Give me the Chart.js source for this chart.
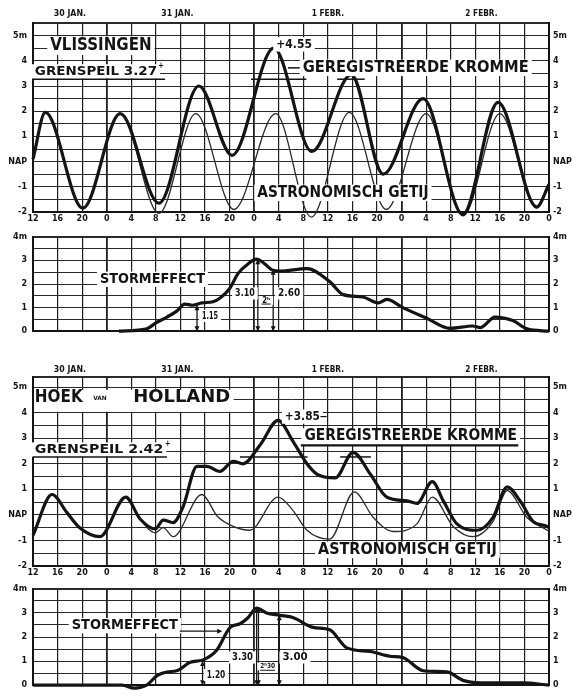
<!DOCTYPE html>
<html>
<head>
<meta charset="utf-8">
<script src="https://cdn.jsdelivr.net/npm/chart.js@4.4.1/dist/chart.umd.min.js"></script>
<style>
  html, body { margin: 0; padding: 0; background: #fff; }
  body { width: 572px; height: 696px; position: relative; overflow: hidden; }
  canvas { position: absolute; left: 0; }
</style>
</head>
<body>
<canvas id="vlisTide" width="572" height="228" style="top:0px"></canvas>
<canvas id="vlisStorm" width="572" height="116" style="top:226px"></canvas>
<canvas id="hoekTide" width="572" height="229" style="top:353px"></canvas>
<canvas id="hoekStorm" width="572" height="118" style="top:578px"></canvas>
<script>
// Stormvloed 1953 — waterstanden Vlissingen en Hoek van Holland
// x = uren vanaf 30 jan. 12u, y = meters t.o.v. NAP

const INK = '#141414';
const FONT = '"DejaVu Sans", sans-serif';

// ─── DATA ─────────────────────────────────────────────────────
const dayLabels = ['30 JAN.', '31 JAN.', '1 FEBR.', '2 FEBR.'];
const dayLabelHours = [6, 23.5, 48, 73];

const vlisRegHours  = [0, 2, 8.1, 14.2, 20.5, 27, 32.4, 39.2, 45.4, 51.8, 57, 63.5, 70, 75.7, 82, 84];
const vlisRegLevel  = [0.1, 1.95, -1.85, 1.9, -1.65, 3.0, 0.25, 4.5, 0.4, 3.45, -0.5, 2.5, -2.1, 2.35, -1.8, -0.9];

const vlisAstroHours = [0, 2, 8.1, 14.2, 20.5, 26.5, 32.7, 39.5, 45.3, 51.5, 57.5, 64, 70, 76, 82, 84];
const vlisAstroLevel = [0.1, 1.95, -1.85, 1.9, -2.05, 1.9, -1.9, 1.9, -2.2, 1.95, -1.9, 1.9, -2.15, 1.9, -1.85, -0.95];

const vlisStormHours = [14, 18.5, 20, 21.8, 23.4, 24.7, 26, 27.5, 29.3, 30.4, 32, 33.4, 35, 36.4, 37.5, 38.9, 40.2, 44.6, 48.3, 50.5, 53.7, 56.2, 57.6, 60.2, 64.1, 67.9, 71.6, 72.8, 75.2, 78.1, 80.4, 84];
const vlisStormLevel = [0, 0.1, 0.35, 0.6, 0.85, 1.15, 1.1, 1.2, 1.25, 1.4, 1.8, 2.45, 2.85, 3.05, 2.9, 2.6, 2.55, 2.65, 2.1, 1.55, 1.45, 1.2, 1.35, 1.0, 0.55, 0.12, 0.22, 0.15, 0.6, 0.45, 0.1, 0];

const hoekRegHours = [0, 3.1, 5.5, 7.6, 10.9, 15.1, 17.4, 19.9, 21.2, 22.8, 24.4, 26.7, 28.3, 30.4, 32.6, 34.2, 37, 39.9, 42.4, 44.6, 46.2, 49.2, 52.1, 54.9, 57.6, 60.9, 62.5, 65, 66.8, 69, 72.3, 74.9, 77.2, 79.3, 81.4, 83.7, 84];
const hoekRegLevel = [-0.8, 0.8, 0.1, -0.5, -0.85, 0.7, -0.15, -0.55, -0.2, -0.3, 0.3, 1.9, 1.9, 1.7, 2.1, 2.0, 2.75, 3.7, 2.85, 2.0, 1.6, 1.45, 2.45, 1.6, 0.7, 0.55, 0.45, 1.3, 0.55, -0.35, -0.6, -0.1, 1.1, 0.55, -0.25, -0.45, -0.5];

const hoekAstroHours = [0, 3.1, 5.5, 7.6, 10.9, 15.1, 17.4, 19.9, 21.2, 22.8, 27.5, 30, 32.6, 35.3, 39.9, 42.4, 44.6, 48.3, 52.3, 55.4, 58.6, 62.5, 65, 68.4, 71.6, 74.9, 77.2, 80.4, 83.7, 84];
const hoekAstroLevel = [-0.8, 0.8, 0.1, -0.5, -0.85, 0.7, -0.15, -0.7, -0.5, -0.85, 0.8, -0.05, -0.45, -0.6, 0.7, 0.15, -0.6, -0.95, 0.9, -0.1, -0.65, -0.35, 0.7, -0.45, -0.85, -0.25, 0.95, -0.1, -0.6, -0.65];

const hoekStormHours = [0, 14.5, 16.5, 18.5, 20.2, 21.8, 23.4, 25.6, 27.7, 29.9, 32.1, 33.7, 35, 36.4, 38, 40.2, 42.4, 45.6, 48.3, 51.1, 54.9, 58.1, 60.2, 63.5, 67.4, 70, 72.8, 79.8, 84];
const hoekStormLevel = [0, 0, -0.12, 0, 0.4, 0.55, 0.6, 0.95, 1.05, 1.45, 2.4, 2.55, 2.8, 3.2, 3.0, 2.9, 2.8, 2.4, 2.3, 1.55, 1.4, 1.2, 1.15, 0.6, 0.55, 0.2, 0.1, 0.1, 0];

// ─── HELPERS ──────────────────────────────────────────────────
const pts = (hs, vs) => hs.map((h, i) => ({ x: h, y: vs[i] }));

function fitText(ctx, text, x0, x1, yc, size, box) {
  ctx.save();
  ctx.font = `bold ${size}px ${FONT}`;
  const w = ctx.measureText(text).width;
  const target = x1 - x0;
  if (box) {
    ctx.fillStyle = '#fff';
    ctx.fillRect(x0 - 3, yc - size * 0.55, target + 6, size * 1.1);
  }
  ctx.fillStyle = INK;
  ctx.textBaseline = 'middle';
  ctx.textAlign = 'left';
  ctx.translate(x0, yc);
  ctx.scale(target / w, 1);
  ctx.fillText(text, 0, 0);
  ctx.restore();
}

function seg(ctx, x0, y0, x1, y1, w) {
  ctx.save();
  ctx.strokeStyle = INK;
  ctx.lineWidth = w || 1.2;
  ctx.beginPath();
  ctx.moveTo(x0, y0);
  ctx.lineTo(x1, y1);
  ctx.stroke();
  ctx.restore();
}

function head(ctx, x, y, dir) {
  // dir: 'up' | 'down' | 'left' | 'right'
  ctx.save();
  ctx.fillStyle = INK;
  ctx.beginPath();
  if (dir === 'up') { ctx.moveTo(x, y); ctx.lineTo(x - 2.5, y + 5); ctx.lineTo(x + 2.5, y + 5); }
  if (dir === 'down') { ctx.moveTo(x, y); ctx.lineTo(x - 2.5, y - 5); ctx.lineTo(x + 2.5, y - 5); }
  if (dir === 'left') { ctx.moveTo(x, y); ctx.lineTo(x + 5, y - 2.5); ctx.lineTo(x + 5, y + 2.5); }
  if (dir === 'right') { ctx.moveTo(x, y); ctx.lineTo(x - 5, y - 2.5); ctx.lineTo(x - 5, y + 2.5); }
  ctx.closePath();
  ctx.fill();
  ctx.restore();
}

// note in data coords: h0..h1 horizontal span, m = level
function note(chart, text, h0, h1, m, size, box) {
  const X = chart.scales.x, Y = chart.scales.y;
  fitText(chart.ctx, text, X.getPixelForValue(h0), X.getPixelForValue(h1), Y.getPixelForValue(m), size, box);
}

function hline(chart, h0, h1, m, w) {
  const X = chart.scales.x, Y = chart.scales.y;
  const y = Y.getPixelForValue(m);
  seg(chart.ctx, X.getPixelForValue(h0), y, X.getPixelForValue(h1), y, w);
}

function marker(chart, h, top) {
  const X = chart.scales.x, Y = chart.scales.y;
  const x = X.getPixelForValue(h), y0 = Y.getPixelForValue(0), y1 = Y.getPixelForValue(top);
  seg(chart.ctx, x, y0, x, y1, 1.3);
  head(chart.ctx, x, y1, 'up');
  head(chart.ctx, x, y0, 'down');
}

function dayPlugin(y) {
  return {
    id: 'days',
    afterDraw(chart) {
      const X = chart.scales.x;
      dayLabels.forEach((t, i) => {
        const xc = X.getPixelForValue(dayLabelHours[i]);
        const w = t.length * 4.6;
        fitText(chart.ctx, t, xc - w / 2, xc + w / 2, y, 8, false);
      });
    }
  };
}

// ─── CHART FACTORY ────────────────────────────────────────────
function buildChart(id, o) {
  const tickFont = { family: FONT, size: 8, weight: 'bold' };
  const yLabel = v => {
    if (!Number.isInteger(v)) return '';
    if (v === o.topLabel) return v + 'm';
    if (v === 0) return o.zeroLabel;
    return String(v);
  };
  const yAxis = side => ({
    type: 'linear',
    position: side,
    min: o.yMin,
    max: o.yMax,
    ticks: {
      stepSize: 0.5, autoSkip: false, color: INK, font: tickFont,
      padding: side === 'left' ? 6 : 4, callback: yLabel,
    },
    grid: side === 'left'
      ? {
          color: '#2a2a2a', drawTicks: false,
          lineWidth: c => (c.tick && c.tick.value === o.yMax) ? 2 : 1,
        }
      : { display: false, drawTicks: false },
    border: { color: INK, width: 2 },
    afterFit: s => { s.width = side === 'left' ? 33 : 23; },
  });

  return new Chart(document.getElementById(id), {
    type: 'line',
    data: { datasets: o.datasets },
    options: {
      responsive: false,
      animation: false,
      events: [],
      layout: { padding: { top: o.padTop, left: 0, right: 0, bottom: 0 } },
      plugins: { legend: { display: false }, tooltip: { enabled: false } },
      scales: {
        x: {
          type: 'linear', min: 0, max: 84,
          ticks: {
            display: o.showHours, stepSize: 4, autoSkip: false, maxRotation: 0,
            color: INK, font: tickFont, padding: 2,
            callback: v => (v + 12) % 24,
          },
          grid: {
            color: '#1e1e1e', drawTicks: false,
            lineWidth: c => (c.tick && c.tick.value % 24 === 12) ? 1.8 : 1.2,
          },
          border: { color: INK, width: 2 },
          afterFit: s => { s.height = o.xHeight; },
        },
        y: yAxis('left'),
        y2: yAxis('right'),
      },
    },
    plugins: o.plugins,
  });
}

const regLine = data => ({
  data, borderColor: INK, borderWidth: 3.2, pointRadius: 0,
  cubicInterpolationMode: 'monotone', clip: 8, order: 1,
});
const astroLine = data => ({
  data, borderColor: '#2b2b2b', borderWidth: 1.3, pointRadius: 0,
  cubicInterpolationMode: 'monotone', clip: 8, order: 2,
});

// ─── VLISSINGEN ───────────────────────────────────────────────
buildChart('vlisTide', {
  yMin: -2, yMax: 5.5, topLabel: 5, zeroLabel: 'NAP',
  padTop: 23, xHeight: 16, showHours: true,
  datasets: [astroLine(pts(vlisAstroHours, vlisAstroLevel)), regLine(pts(vlisRegHours, vlisRegLevel))],
  plugins: [dayPlugin(14), {
    id: 'vlisNotes',
    afterDatasetsDraw(chart) {
      note(chart, 'VLISSINGEN', 2.8, 19.3, 4.6, 17, true);
      note(chart, 'GRENSPEIL 3.27', 0.3, 20.2, 3.58, 13, true);
      note(chart, '+', 20.4, 21.3, 3.82, 9, false);
      hline(chart, 0, 21.5, 3.27, 1.5);
      hline(chart, 35.5, 44.5, 3.27, 1.5);
      hline(chart, 49.5, 54, 3.27, 1.5);
      note(chart, '+4.55', 39.6, 45.4, 4.65, 13, true);
      hline(chart, 41.5, 43.8, 3.72, 1.5);
      note(chart, 'GEREGISTREERDE KROMME', 43.9, 80.7, 3.72, 15, true);
      note(chart, 'ASTRONOMISCH GETIJ', 36.5, 64.4, -1.24, 15, true);
    }
  }],
});

buildChart('vlisStorm', {
  yMin: 0, yMax: 4, topLabel: 4, zeroLabel: '0',
  padTop: 6, xHeight: 8, showHours: false,
  datasets: [regLine(pts(vlisStormHours, vlisStormLevel))],
  plugins: [{
    id: 'vlisStormNotes',
    afterDatasetsDraw(chart) {
      note(chart, 'STORMEFFECT', 10.9, 28, 2.2, 14, true);
      marker(chart, 26.7, 1.1);
      marker(chart, 36.6, 3.05);
      marker(chart, 39.1, 2.6);
      note(chart, '1.15', 27.5, 30.1, 0.65, 11, true);
      note(chart, '3.10', 32.9, 36.1, 1.6, 11, true);
      note(chart, '2.60', 39.9, 43.5, 1.6, 11, true);
      note(chart, '2ʰ', 37.3, 38.6, 1.3, 8, true);
      hline(chart, 37.2, 38.7, 1.15, 1);
    }
  }],
});

// ─── HOEK VAN HOLLAND ─────────────────────────────────────────
buildChart('hoekTide', {
  yMin: -2, yMax: 5.4, topLabel: 5, zeroLabel: 'NAP',
  padTop: 24, xHeight: 16, showHours: true,
  datasets: [astroLine(pts(hoekAstroHours, hoekAstroLevel)), regLine(pts(hoekRegHours, hoekRegLevel))],
  plugins: [dayPlugin(17), {
    id: 'hoekNotes',
    afterDatasetsDraw(chart) {
      const X = chart.scales.x, Y = chart.scales.y;
      const ctx = chart.ctx;
      ctx.save();
      ctx.fillStyle = '#fff';
      ctx.fillRect(X.getPixelForValue(0) + 1, Y.getPixelForValue(4.9), X.getPixelForValue(32.5) - X.getPixelForValue(0), 22);
      ctx.restore();
      note(chart, 'HOEK', 0.3, 8.1, 4.62, 18, false);
      note(chart, 'VAN', 9.8, 12.0, 4.55, 6, false);
      note(chart, 'HOLLAND', 16.3, 32.1, 4.62, 18, false);
      note(chart, 'GRENSPEIL 2.42', 0.3, 21.2, 2.56, 13, true);
      note(chart, '+', 21.5, 22.4, 2.8, 9, false);
      hline(chart, 0, 21.8, 2.27, 1.5);
      hline(chart, 33.7, 44.7, 2.27, 1.5);
      hline(chart, 50, 55, 2.27, 1.5);
      note(chart, '+3.85', 41, 46.7, 3.85, 13, true);
      hline(chart, 46.8, 47.8, 3.85, 1.2);
      note(chart, 'GEREGISTREERDE KROMME', 44.2, 78.8, 3.07, 15, true);
      hline(chart, 43.6, 79, 2.72, 2.2);
      note(chart, 'ASTRONOMISCH GETIJ', 46.4, 75.5, -1.37, 15, true);
    }
  }],
});

buildChart('hoekStorm', {
  yMin: 0, yMax: 4, topLabel: 4, zeroLabel: '0',
  padTop: 7, xHeight: 9, showHours: false,
  datasets: [regLine(pts(hoekStormHours, hoekStormLevel))],
  plugins: [{
    id: 'hoekStormNotes',
    afterDatasetsDraw(chart) {
      const X = chart.scales.x, Y = chart.scales.y;
      note(chart, 'STORMEFFECT', 6.3, 23.6, 2.47, 14, true);
      hline(chart, 23.9, 30.6, 2.24, 1.2);
      head(chart.ctx, X.getPixelForValue(30.8), Y.getPixelForValue(2.24), 'right');
      marker(chart, 27.6, 1.0);
      marker(chart, 36.4, 3.2);
      marker(chart, 36.7, 3.2);
      marker(chart, 40.1, 2.9);
      note(chart, '1.20', 28.3, 31.3, 0.42, 11, true);
      note(chart, '3.30', 32.4, 35.8, 1.15, 11, true);
      note(chart, '3.00', 40.6, 44.7, 1.15, 11, true);
      note(chart, '2ʰ30', 37.0, 39.4, 0.78, 7, true);
      hline(chart, 37, 39.4, 0.62, 1);
    }
  }],
});
</script>
</body>
</html>
